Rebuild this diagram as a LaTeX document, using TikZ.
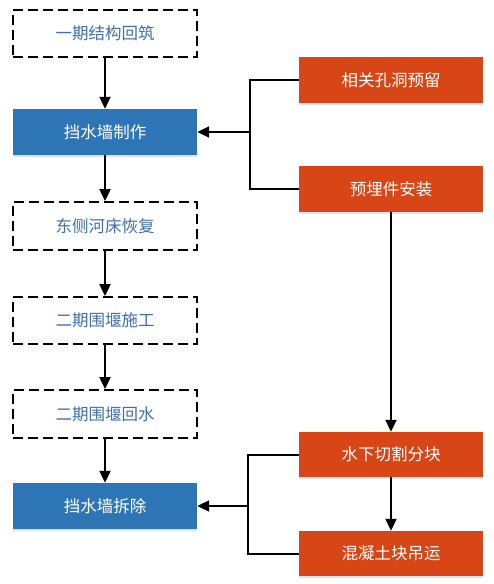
\documentclass[tikz,border=0pt]{standalone}
\usepackage{fontspec}
\setmainfont{Noto Sans CJK SC}
\usetikzlibrary{arrows.meta,shadows}
\definecolor{boxblue}{HTML}{2E75B6}
\definecolor{boxred}{HTML}{D84516}
\definecolor{txtblue}{HTML}{3F6FAD}
\definecolor{shade}{HTML}{B4C7E7}
\begin{document}
\begin{tikzpicture}[x=1pt,y=-1pt,
  base/.style={minimum width=184pt,inner sep=0pt,font=\fontsize{16.5}{19}\selectfont},
  dbox/.style={base,draw=black,line width=1.8pt,dash pattern=on 10pt off 5pt,fill=white,text=txtblue},
  bbox/.style={base,fill=boxblue,text=white,drop shadow={shadow xshift=0pt,shadow yshift=-2pt,opacity=0.5,fill=shade}},
  rbox/.style={base,fill=boxred,text=white,drop shadow={shadow xshift=0pt,shadow yshift=-2pt,opacity=0.5,fill=shade}},
  arr/.style={line width=2pt,-{Triangle[width=11pt,length=12pt]}},
  ln/.style={line width=2pt}]
\useasboundingbox (0,0) rectangle (493,584);
\node[dbox,minimum height=47pt] (a) at (105,33.5) {一期结构回筑};
\node[bbox,minimum height=46pt] (b) at (105,132) {挡水墙制作};
\node[dbox,minimum height=48pt] (c) at (105,226) {东侧河床恢复};
\node[dbox,minimum height=47pt] (d) at (105,320.5) {二期围堰施工};
\node[dbox,minimum height=48pt] (e) at (105,414) {二期围堰回水};
\node[bbox,minimum height=46pt] (f) at (105,506) {挡水墙拆除};
\node[rbox,minimum height=46pt] (r1) at (391,80) {相关孔洞预留};
\node[rbox,minimum height=46pt] (r2) at (391,189) {预埋件安装};
\node[rbox,minimum height=45pt] (r3) at (391,454.5) {水下切割分块};
\node[rbox,minimum height=45pt] (r4) at (391,553.5) {混凝土块吊运};
\coordinate (j1) at (250,132);
\coordinate (j2) at (248,506);
\draw[arr] (a) -- (b);
\draw[arr] (b) -- (c);
\draw[arr] (c) -- (d);
\draw[arr] (d) -- (e);
\draw[arr] (e) -- (f);
\draw[ln] (r1.west) -| (j1) |- (r2.west);
\draw[arr] (j1) -- (b.east);
\draw[arr] (r2) -- (r3);
\draw[arr] (r3) -- (r4);
\draw[ln] (r3.west) -| (j2) |- (r4.west);
\draw[arr] (j2) -- (f.east);
\end{tikzpicture}
\end{document}
